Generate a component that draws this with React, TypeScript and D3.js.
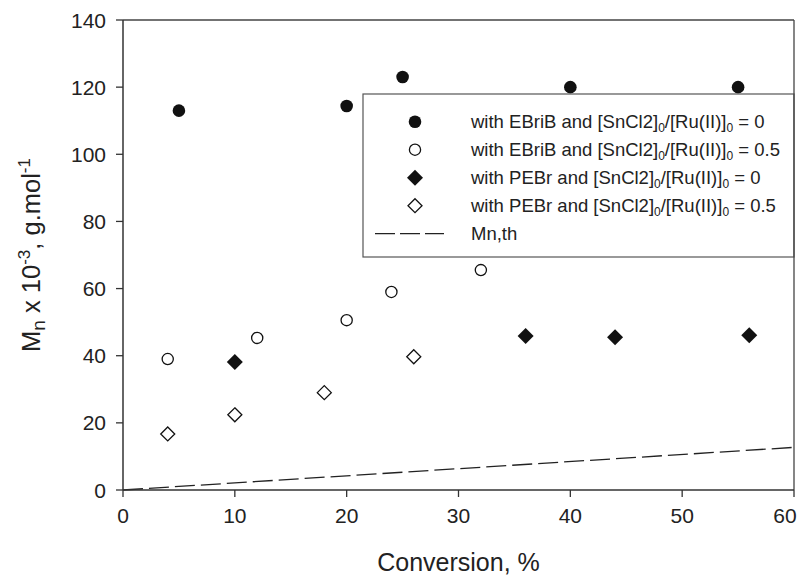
import React from "react";
import * as d3 from "d3";

// Series data (Conversion %, Mn x 10^-3)
const ebrib0X = [5, 20, 25, 40, 55];
const ebrib0Y = [113, 114.4, 123, 120, 120];
const ebrib05X = [4, 12, 20, 24, 32];
const ebrib05Y = [39, 45.3, 50.6, 59, 65.5];
const pebr0X = [10, 36, 44, 56];
const pebr0Y = [38.1, 45.9, 45.5, 46.1];
const pebr05X = [4, 10, 18, 26];
const pebr05Y = [16.7, 22.4, 29, 39.7];
const mnThX = [0, 60];
const mnThY = [0, 12.7];

const xTicks = [0, 10, 20, 30, 40, 50, 60];
const yTicks = [0, 20, 40, 60, 80, 100, 120, 140];

const W = 798;
const H = 577;
const FONT = "'Liberation Sans', Arial, Helvetica, sans-serif";
const INK = "#222";

type MarkerKind = "filledCircle" | "openCircle" | "filledDiamond" | "openDiamond";

function Marker({ kind, cx, cy }: { kind: MarkerKind; cx: number; cy: number }) {
  if (kind === "filledCircle") return <circle cx={cx} cy={cy} r={6.3} fill="#111" />;
  if (kind === "openCircle")
    return <circle cx={cx} cy={cy} r={5.6} fill="#fff" stroke="#111" strokeWidth={1.3} />;
  const s = kind === "filledDiamond" ? 8 : 7;
  const p = `M${cx},${cy - s}L${cx + s},${cy}L${cx},${cy + s}L${cx - s},${cy}Z`;
  if (kind === "filledDiamond") return <path d={p} fill="#111" />;
  return <path d={p} fill="#fff" stroke="#111" strokeWidth={1.3} />;
}

export default function App() {
  const x = d3.scaleLinear().domain([0, 60]).range([123, 794]);
  const y = d3.scaleLinear().domain([0, 140]).range([490, 20]);
  const [x0, x1] = x.range();
  const [y0, y1] = y.range();

  const series: { kind: MarkerKind; xs: number[]; ys: number[] }[] = [
    { kind: "filledCircle", xs: ebrib0X, ys: ebrib0Y },
    { kind: "openCircle", xs: ebrib05X, ys: ebrib05Y },
    { kind: "filledDiamond", xs: pebr0X, ys: pebr0Y },
    { kind: "openDiamond", xs: pebr05X, ys: pebr05Y },
  ];

  const line = d3
    .line<number>()
    .x((_, i) => x(mnThX[i]))
    .y((d) => y(d));

  const legendLabels: { main: string; value: string }[] = [
    { main: "with EBriB and", value: "0" },
    { main: "with EBriB and", value: "0.5" },
    { main: "with PEBr and", value: "0" },
    { main: "with PEBr and", value: "0.5" },
  ];

  const lgLeft = 363;
  const lgTop = 94;
  const lgBottom = 257;
  const rowY = (i: number) => 121.7 + 28 * i;
  const markerX = 415;
  const textX = 471;
  const LFS = 18.5;

  return (
    <div style={{ position: "absolute", left: 0, top: 0 }}>
      <svg width={W} height={H} style={{ display: "block" }} fontFamily={FONT}>
        <rect width={W} height={H} fill="#fff" />

        {/* Mn,th dashed line */}
        <path
          d={line(mnThY) || ""}
          fill="none"
          stroke={INK}
          strokeWidth={1.3}
          strokeDasharray="20,6"
        />

        {/* data markers */}
        {series.map((s, si) =>
          s.xs.map((xv, i) => (
            <Marker key={`${si}-${i}`} kind={s.kind} cx={x(xv)} cy={y(s.ys[i])} />
          ))
        )}

        {/* legend */}
        <rect
          x={lgLeft}
          y={lgTop}
          width={x1 - lgLeft}
          height={lgBottom - lgTop}
          fill="#fff"
          stroke="#555"
          strokeWidth={1.2}
        />
        {legendLabels.map((l, i) => (
          <g key={i}>
            <Marker kind={series[i].kind} cx={markerX} cy={rowY(i)} />
            <text x={textX} y={rowY(i) + 6.5} fontSize={LFS} fill={INK}>
              {l.main} [SnCl2]
              <tspan fontSize={12} dy={4}>0</tspan>
              <tspan dy={-4}>/[Ru(II)]</tspan>
              <tspan fontSize={12} dy={4}>0</tspan>
              <tspan dy={-4}> = {l.value}</tspan>
            </text>
          </g>
        ))}
        <line
          x1={375}
          x2={444}
          y1={rowY(4)}
          y2={rowY(4)}
          stroke={INK}
          strokeWidth={1.3}
          strokeDasharray="20,5"
        />
        <text x={textX} y={rowY(4) + 6.5} fontSize={LFS} fill={INK}>
          Mn,th
        </text>

        {/* frame */}
        <line x1={x0} x2={x1} y1={y1} y2={y1} stroke="#444" strokeWidth={1.3} />
        <line x1={x1} x2={x1} y1={y1} y2={y0} stroke="#444" strokeWidth={1.3} />
        <line x1={x0} x2={x1} y1={y0} y2={y0} stroke="#333" strokeWidth={1.5} />
        <line x1={x0} x2={x0} y1={y1} y2={y0} stroke="#333" strokeWidth={1.5} />

        {/* x axis ticks */}
        {xTicks.map((t) => (
          <g key={`xt${t}`}>
            <line x1={x(t)} x2={x(t)} y1={y0} y2={y0 + 7} stroke="#333" strokeWidth={1.3} />
            <text
              x={Math.min(x(t), W - 13)}
              y={y0 + 33}
              fontSize={21}
              textAnchor="middle"
              fill={INK}
            >
              {t}
            </text>
          </g>
        ))}
        {/* y axis ticks */}
        {yTicks.map((t) => (
          <g key={`yt${t}`}>
            <line x1={x0 - 7} x2={x0} y1={y(t)} y2={y(t)} stroke="#333" strokeWidth={1.3} />
            <text x={x0 - 17} y={y(t) + 7.5} fontSize={21} textAnchor="end" fill={INK}>
              {t}
            </text>
          </g>
        ))}

        {/* axis titles */}
        <text x={(x0 + x1) / 2} y={571} fontSize={25} textAnchor="middle" fill={INK}>
          Conversion, %
        </text>
        <text
          transform={`translate(40,${(y0 + y1) / 2}) rotate(-90)`}
          fontSize={25.5}
          textAnchor="middle"
          fill={INK}
        >
          M<tspan fontSize={19} dy={5}>n</tspan>
          <tspan dy={-5}> x 10</tspan>
          <tspan fontSize={17} dy={-10}>-3</tspan>
          <tspan dy={10}>, g.mol</tspan>
          <tspan fontSize={17} dy={-10}>-1</tspan>
        </text>
      </svg>
    </div>
  );
}
